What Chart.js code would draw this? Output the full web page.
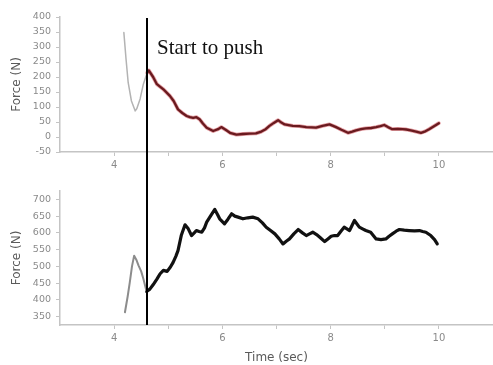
<!DOCTYPE html>
<html>
<head>
<meta charset="utf-8">
<script src="https://cdn.jsdelivr.net/npm/chart.js@4"></script>
<style>
  body { margin: 0; background: #fff; }
  #wrap { position: relative; width: 493px; height: 365px; }
  canvas { position: absolute; left: 0; display: block; }
  #topChart { top: 0; }
  #botChart { top: 180px; }
</style>
</head>
<body>
<div id="wrap">
  <canvas id="topChart" width="493" height="180"></canvas>
  <canvas id="botChart" width="493" height="185"></canvas>
</div>
<script>
// moment the push begins (sec)
const PUSH_TIME = 4.6;
const PUSH_LABEL = 'Start to push';

// time axis ticks
const timeTicks = [4, 5, 6, 7, 8, 9, 10];
const topForceTicks = [-50, 0, 50, 100, 150, 200, 250, 300, 350, 400];
const botForceTicks = [350, 400, 450, 500, 550, 600, 650, 700];

// upper panel: before the push
const topPreTime  = [4.18, 4.22, 4.26, 4.32, 4.39, 4.42, 4.48, 4.54, 4.61];
const topPreForce = [348, 260, 181, 120, 87, 95, 127, 176, 214];

// upper panel: after the push
const topTime  = [4.61, 4.64, 4.72, 4.79, 4.91, 5.03, 5.10, 5.18, 5.26, 5.34, 5.40, 5.46, 5.52, 5.58, 5.64, 5.71,
                  5.83, 5.92, 5.98, 6.06, 6.14, 6.26, 6.38, 6.50, 6.62, 6.72, 6.80, 6.87, 6.95, 7.03, 7.09, 7.15,
                  7.30, 7.42, 7.55, 7.65, 7.73, 7.85, 7.98, 8.10, 8.20, 8.32, 8.40, 8.47, 8.56, 8.65, 8.75, 8.84,
                  8.92, 8.99, 9.06, 9.14, 9.24, 9.33, 9.40, 9.48, 9.58, 9.67, 9.75, 9.82, 9.91, 10.0];
const topForce = [214, 222, 200, 176, 159, 137, 120, 92, 80, 70, 66, 64, 66, 59, 45, 31,
                  20, 26, 33, 24, 14, 8, 10, 11, 12, 18, 26, 37, 47, 56, 48, 42,
                  37, 36, 33, 32, 31, 37, 42, 33, 24, 14, 18, 22, 26, 29, 30, 33,
                  36, 40, 33, 26, 27, 26, 25, 22, 18, 14, 19, 26, 36, 46];

// lower panel: before the push
const botPreTime  = [4.20, 4.25, 4.29, 4.33, 4.37, 4.41, 4.45, 4.50, 4.54, 4.60];
const botPreForce = [363, 410, 453, 500, 532, 520, 503, 485, 463, 425];

// lower panel: after the push
const botTime  = [4.60, 4.66, 4.72, 4.79, 4.85, 4.91, 4.98, 5.04, 5.09, 5.14, 5.18, 5.24, 5.31, 5.37, 5.43, 5.48,
                  5.52, 5.57, 5.62, 5.67, 5.71, 5.78, 5.86, 5.91, 5.95, 6.04, 6.10, 6.17, 6.23, 6.29, 6.38, 6.47,
                  6.56, 6.66, 6.74, 6.81, 6.89, 6.97, 7.05, 7.12, 7.18, 7.24, 7.32, 7.40, 7.48, 7.55, 7.61, 7.67,
                  7.74, 7.80, 7.89, 7.95, 8.01, 8.07, 8.13, 8.19, 8.25, 8.30, 8.35, 8.44, 8.53, 8.59, 8.65, 8.74,
                  8.84, 8.93, 9.02, 9.08, 9.14, 9.21, 9.27, 9.36, 9.45, 9.55, 9.64, 9.70, 9.76, 9.85, 9.92, 9.97];
const botForce = [425, 432, 445, 462, 478, 488, 485, 498, 512, 530, 547, 592, 624, 612, 592, 600,
                  607, 604, 602, 615, 632, 650, 670, 655, 642, 627, 640, 657, 650, 647, 642, 645,
                  647, 642, 630, 617, 607, 597, 582, 567, 575, 582, 597, 610, 600, 592, 597, 602,
                  595, 587, 574, 582, 590, 592, 592, 605, 617, 612, 607, 637, 617, 612, 607, 602,
                  582, 580, 582, 590, 597, 605, 610, 608, 607, 606, 607, 604, 602, 592, 580, 567];

const toPoints = (xs, ys) => xs.map((x, i) => ({ x: x, y: ys[i] }));

const AXIS_FONT = 'DejaVu Sans';
const tickColor = '#8a8a8a';
const axisColor = '#c4c4c4';

// vertical marker at the push moment, spans both panels
function pushLinePlugin(fromTop, toBottom, withLabel) {
    return {
        id: 'pushLine',
        afterDatasetsDraw(chart) {
            const ctx = chart.ctx;
            const x = Math.round(chart.scales.x.getPixelForValue(PUSH_TIME));
            const y0 = fromTop ? 0 : chart.chartArea.top + 1;
            const y1 = toBottom ? chart.height : chart.chartArea.bottom;
            ctx.save();
            ctx.strokeStyle = '#000';
            ctx.lineWidth = 2;
            ctx.beginPath();
            ctx.moveTo(x, y0);
            ctx.lineTo(x, y1);
            ctx.stroke();
            if (withLabel) {
                ctx.fillStyle = '#111';
                ctx.font = '21px "Liberation Serif", "Times New Roman", serif';
                ctx.textBaseline = 'alphabetic';
                ctx.fillText(PUSH_LABEL, x + 10, 54);
            }
            ctx.restore();
        }
    };
}

function makeScales(yMin, yMax, yTicks, xTitle, xHeight) {
    return {
        x: {
            type: 'linear',
            min: 3,
            max: 11,
            afterBuildTicks: s => { s.ticks = timeTicks.map(v => ({ value: v })); },
            afterFit: s => { s.height = xHeight; },
            grid: { drawOnChartArea: false, color: axisColor, tickLength: 4 },
            border: { color: axisColor, width: 1.5 },
            ticks: {
                padding: 3,
                maxRotation: 0,
                autoSkip: false,
                color: tickColor,
                font: { family: AXIS_FONT, size: 10 },
                callback: v => (v % 2 === 0 ? String(v) : '')
            },
            title: {
                display: !!xTitle,
                text: xTitle,
                color: '#5a5a5a',
                font: { family: AXIS_FONT, size: 12 },
                padding: { top: 2, bottom: 0 }
            }
        },
        y: {
            min: yMin,
            max: yMax,
            afterBuildTicks: s => { s.ticks = yTicks.map(v => ({ value: v })); },
            afterFit: s => { s.width = 60; },
            grid: { drawOnChartArea: false, color: axisColor, tickLength: 4 },
            border: { color: axisColor, width: 1.5 },
            ticks: {
                padding: 5,
                autoSkip: false,
                color: tickColor,
                font: { family: AXIS_FONT, size: 9.5 }
            },
            title: {
                display: true,
                text: 'Force (N)',
                color: '#5a5a5a',
                font: { family: AXIS_FONT, size: 12 },
                padding: { top: 10, bottom: 0 }
            }
        }
    };
}

const commonOpts = {
    responsive: false,
    animation: false,
    plugins: { legend: { display: false }, tooltip: { enabled: false } },
    elements: { point: { radius: 0 }, line: { tension: 0, borderJoinStyle: 'round', borderCapStyle: 'round' } }
};

new Chart(document.getElementById('topChart'), {
    type: 'line',
    data: {
        datasets: [
            { data: toPoints(topPreTime, topPreForce), borderColor: '#b3b3b3', borderWidth: 1.5 },
            // reddish halo under a dark trace
            { data: toPoints(topTime, topForce), borderColor: 'rgba(195, 40, 50, 0.45)', borderWidth: 3.8 },
            { data: toPoints(topTime, topForce), borderColor: '#22100f', borderWidth: 2.3 }
        ]
    },
    options: Object.assign({}, commonOpts, {
        layout: { padding: { top: 17, right: 0, bottom: 0, left: 0 } },
        scales: makeScales(-50, 400, topForceTicks, '', 28)
    }),
    plugins: [pushLinePlugin(false, true, true)]
});

new Chart(document.getElementById('botChart'), {
    type: 'line',
    data: {
        datasets: [
            { data: toPoints(botPreTime, botPreForce), borderColor: '#8c8c8c', borderWidth: 2 },
            { data: toPoints(botTime, botForce), borderColor: '#111', borderWidth: 3.2 }
        ]
    },
    options: Object.assign({}, commonOpts, {
        layout: { padding: { top: 11, right: 0, bottom: 0, left: 0 } },
        scales: makeScales(325, 725, botForceTicks, 'Time (sec)', 40)
    }),
    plugins: [pushLinePlugin(true, false, false)]
});
</script>
</body>
</html>
